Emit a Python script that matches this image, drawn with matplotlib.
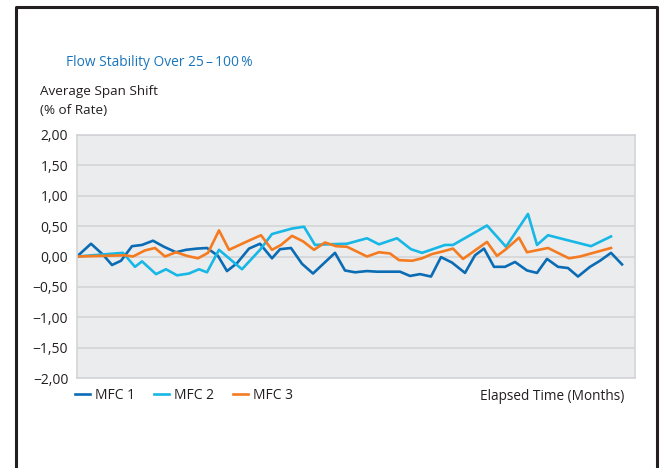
import matplotlib.pyplot as plt
from matplotlib.lines import Line2D
from matplotlib.ticker import FuncFormatter

plt.rcParams['font.family'] = ['Open Sans', 'DejaVu Sans']

# elapsed time (months) and average span shift (% of rate)
t1 = [0.0, 1.4, 2.6, 3.5, 4.4, 5.5, 6.5, 7.6, 8.7, 9.9, 10.9, 12.0, 13.0, 14.1, 15.0,
      16.0, 17.2, 18.3, 19.5, 20.3, 21.4, 22.5, 23.6, 25.8, 26.8, 27.8, 29.0, 30.0,
      31.1, 32.3, 33.3, 34.3, 35.4, 36.4, 37.5, 38.8, 39.8, 40.7, 41.7, 42.8, 43.8,
      45.0, 46.0, 47.0, 48.1, 49.1, 50.1, 51.3, 52.3, 53.4, 54.5]
mfc1 = [0.00, 0.21, 0.03, -0.14, -0.07, 0.17, 0.19, 0.26, 0.16, 0.07, 0.11, 0.13, 0.14,
        0.01, -0.24, -0.11, 0.13, 0.21, -0.03, 0.12, 0.14, -0.12, -0.28, 0.06, -0.23,
        -0.26, -0.24, -0.25, -0.25, -0.25, -0.32, -0.29, -0.33, -0.01, -0.10, -0.27,
        0.02, 0.13, -0.17, -0.17, -0.09, -0.23, -0.27, -0.04, -0.17, -0.19, -0.33,
        -0.17, -0.07, 0.06, -0.13]

t2 = [0.0, 2.3, 4.6, 5.8, 6.5, 7.9, 8.9, 10.0, 11.2, 12.2, 13.0, 14.2, 16.5, 18.3,
      19.5, 21.5, 22.7, 23.8, 25.0, 27.0, 29.0, 30.2, 32.0, 33.4, 34.5, 36.8, 37.6,
      41.0, 42.9, 45.1, 46.0, 47.1, 51.4, 53.4]
mfc2 = [0.00, 0.03, 0.06, -0.17, -0.08, -0.29, -0.21, -0.31, -0.28, -0.21, -0.26, 0.11,
        -0.21, 0.11, 0.37, 0.46, 0.49, 0.19, 0.20, 0.21, 0.30, 0.20, 0.30, 0.12, 0.06,
        0.19, 0.19, 0.51, 0.16, 0.70, 0.19, 0.35, 0.17, 0.33]

t3 = [0.0, 4.8, 5.6, 6.8, 7.8, 8.8, 9.9, 11.0, 12.1, 13.1, 14.2, 15.2, 17.3, 18.4,
      19.5, 20.4, 21.5, 22.6, 23.7, 24.8, 25.9, 27.0, 29.0, 30.2, 31.3, 32.2, 33.5,
      34.5, 35.5, 36.5, 37.6, 38.6, 41.0, 42.0, 42.9, 44.2, 45.0, 47.1, 49.2, 50.3, 53.4]
mfc3 = [0.00, 0.02, 0.00, 0.10, 0.14, 0.00, 0.07, 0.01, -0.03, 0.06, 0.43, 0.11, 0.27,
        0.35, 0.11, 0.19, 0.34, 0.25, 0.11, 0.23, 0.17, 0.16, 0.00, 0.07, 0.05, -0.06,
        -0.07, -0.03, 0.04, 0.08, 0.13, -0.04, 0.24, 0.01, 0.12, 0.31, 0.07, 0.14,
        -0.03, 0.00, 0.14]

yticks = [-2.0, -1.5, -1.0, -0.5, 0.0, 0.5, 1.0, 1.5, 2.0]

dark = '#231f20'
grid = '#d2d4d7'

fig = plt.figure(figsize=(6.64, 4.68), dpi=100)
ax = fig.add_axes([76.5/664, 1-378/468, (635-76.5)/664, (378-135)/468])
ax.set_facecolor('#ebecee')

ax.plot(t1, mfc1, color='#0a6cb4', lw=1.9, label='MFC 1')
ax.plot(t2, mfc2, color='#17b7e6', lw=1.9, label='MFC 2')
ax.plot(t3, mfc3, color='#f47b20', lw=1.9, label='MFC 3')

ax.set_xlim(-0.05, 55.8)
ax.set_ylim(-2, 2)
ax.set_xticks([])
ax.set_yticks(yticks)
ax.yaxis.set_major_formatter(FuncFormatter(
    lambda v, p: ('\u2212' if v < 0 else '') + f'{abs(v):.2f}'.replace('.', ',')))
ax.tick_params(axis='y', length=0, pad=6, labelsize=10, labelcolor=dark)
ax.grid(axis='y', color=grid, lw=1.2)
ax.set_axisbelow(True)
for s in ax.spines.values():
    s.set_color(grid)
    s.set_linewidth(1.2)

leg = ax.legend(loc='upper left', bbox_to_anchor=(-0.002, -0.04), ncol=3, frameon=False,
                fontsize=10, handlelength=1.05, handletextpad=0.35, columnspacing=1.4,
                borderaxespad=0, borderpad=0)
for txt in leg.get_texts():
    txt.set_color(dark)

fig.text(624/664, 1-397/468, 'Elapsed Time (Months)', ha='right', va='center',
         fontsize=9.8, color=dark)
fig.text(66/664, 1-63/468, 'Flow Stability Over 25\u2009\u2013\u2009100\u2009%',
         ha='left', va='center', fontsize=9.9, color='#1b75bc')
fig.text(40/664, 1-91/468, 'Average Span Shift', ha='left', va='center',
         fontsize=9.7, color=dark)
fig.text(40/664, 1-111/468, '(% of Rate)', ha='left', va='center',
         fontsize=9.7, color=dark)

# outer frame
fx0, fx1, fy1 = 15.5/664, 656.5/664, 1-6.5/468
fig.add_artist(Line2D([fx0, fx0, fx1, fx1], [-0.1, fy1, fy1, -0.1],
                      color=dark, lw=2.2, transform=fig.transFigure))

fig.savefig('out.png', dpi=100)
